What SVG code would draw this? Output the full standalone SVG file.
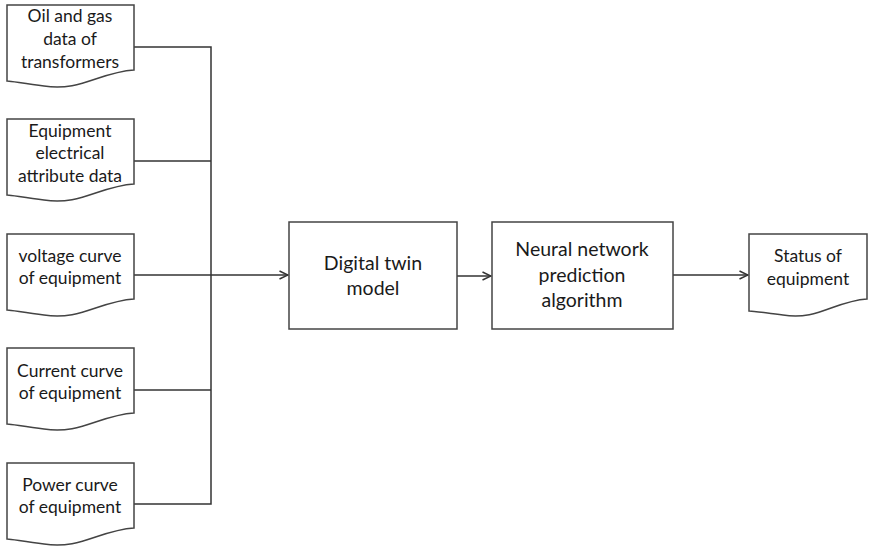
<svg xmlns="http://www.w3.org/2000/svg" width="871" height="546" viewBox="0 0 871 546">
<style>
.s{fill:#fff;stroke:#444;stroke-width:1.5}
.c{fill:none;stroke:#333;stroke-width:1.5}
.t{font-family:Lato,"Open Sans",sans-serif;font-size:17.5px;fill:#1a1a1a;text-anchor:middle}
.b{font-size:19.5px}
</style>
<defs>
<marker id="a" viewBox="0 0 10 10" refX="9.5" refY="5" markerWidth="10" markerHeight="10" markerUnits="userSpaceOnUse" orient="auto">
<path d="M1,1 L9.5,5 L1,9" fill="none" stroke="#333" stroke-width="1.5"/>
</marker>
</defs>
<rect width="871" height="546" fill="#fff"/>
<g id="connectors">
<path class="c" d="M134,47 H211 V504 H134"/>
<path class="c" d="M134,161 H211"/>
<path class="c" d="M134,390 H211"/>
<path class="c" d="M134,275 H288" marker-end="url(#a)"/>
<path class="c" d="M457,276 H491" marker-end="url(#a)"/>
<path class="c" d="M673,275 H748" marker-end="url(#a)"/>
</g>
<g id="doc1">
<path class="s" d="M7,5 H134 V70 C100,72 80,92 44,86 C25,84 12,81 7,81 Z"/>
<text class="t" x="70" y="22">Oil and gas</text>
<text class="t" x="70" y="45">data of</text>
<text class="t" x="70" y="68">transformers</text>
</g>
<g id="doc2">
<path class="s" d="M7,119 H134 V184 C100,186 80,206 44,200 C25,198 12,195 7,195 Z"/>
<text class="t" x="70" y="137">Equipment</text>
<text class="t" x="70" y="159">electrical</text>
<text class="t" x="70" y="182">attribute data</text>
</g>
<g id="doc3">
<path class="s" d="M7,234 H134 V299 C100,301 80,321 44,315 C25,313 12,310 7,310 Z"/>
<text class="t" x="70" y="262">voltage curve</text>
<text class="t" x="70" y="284">of equipment</text>
</g>
<g id="doc4">
<path class="s" d="M7,348 H134 V413 C100,415 80,435 44,429 C25,427 12,424 7,424 Z"/>
<text class="t" x="70" y="377">Current curve</text>
<text class="t" x="70" y="399">of equipment</text>
</g>
<g id="doc5">
<path class="s" d="M7,463 H134 V528 C100,530 80,550 44,544 C25,542 12,539 7,539 Z"/>
<text class="t" x="70" y="491">Power curve</text>
<text class="t" x="70" y="513">of equipment</text>
</g>
<g id="box1">
<rect class="s" x="289" y="222" width="168" height="107"/>
<text class="t b" x="373" y="270">Digital twin</text>
<text class="t b" x="373" y="295">model</text>
</g>
<g id="box2">
<rect class="s" x="492" y="222" width="181" height="107"/>
<text class="t b" x="582" y="256">Neural network</text>
<text class="t b" x="582" y="282">prediction</text>
<text class="t b" x="582" y="307">algorithm</text>
</g>
<g id="doc6">
<path class="s" d="M749,234 H867 V299 C835,301 817,321 783,315 C766,313 754,311 749,311 Z"/>
<text class="t" x="808" y="262">Status of</text>
<text class="t" x="808" y="285">equipment</text>
</g>
</svg>
